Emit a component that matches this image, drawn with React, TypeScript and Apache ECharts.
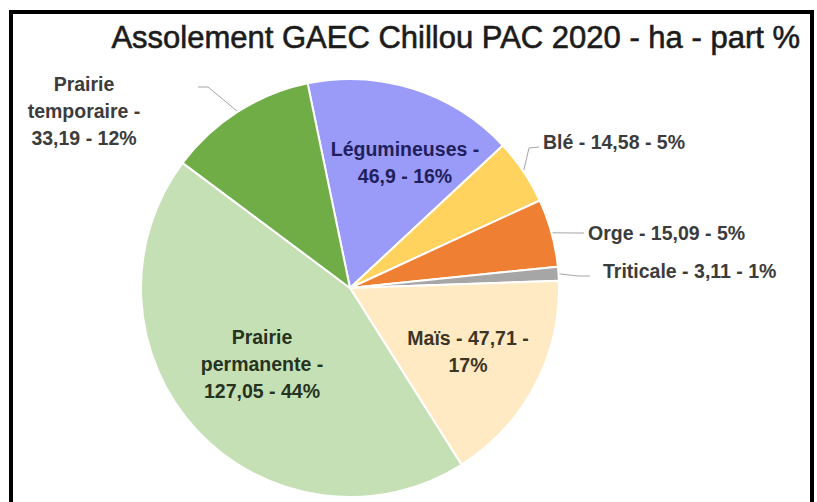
import React, { useEffect, useRef } from "react";
import * as echarts from "echarts";

// ---- data ----
const titleText = "Assolement GAEC Chillou PAC 2020 - ha - part %";
const categories = [
  "Légumineuses",
  "Blé",
  "Orge",
  "Triticale",
  "Maïs",
  "Prairie permanente",
  "Prairie temporaire",
];
const hectares = [46.9, 14.58, 15.09, 3.11, 47.71, 127.05, 33.19];

// ---- style ----
const sliceColors = ["#9A9AF8", "#FFD35E", "#EE7F33", "#A6A6A6", "#FFEAC3", "#C5E0B4", "#70AD47"];
const labelColors = ["#1f1f5c", "#3c3c3c", "#3c3c3c", "#3c3c3c", "#3b3526", "#25331f", "#3c3c3c"];
// {n}: name, {N}: name broken on its space, {v}: hectares, {p}: percent
const labelTemplates = [
  "{n} -\n{v} - {p}%",
  "{n} - {v} - {p}%",
  "{n} - {v} - {p}%",
  "{n} - {v} - {p}%",
  "{n} - {v} -\n{p}%",
  "{N} -\n{v} - {p}%",
  "{N} -\n{v} - {p}%",
];
const insideFlags = [true, false, false, false, true, true, false];

type Place = { x: number; y: number; align: "left" | "center"; line?: number[][] };
const placements: Place[] = [
  { x: 405, y: 162, align: "center" },
  { x: 543, y: 142, align: "left", line: [[529, 148], [539, 147]] },
  { x: 588, y: 233, align: "left", line: [[578, 233], [584, 233]] },
  { x: 603, y: 271, align: "left", line: [[578, 276], [590, 276]] },
  { x: 468, y: 351, align: "center" },
  { x: 262, y: 364, align: "center" },
  { x: 84, y: 111, align: "center", line: [[208, 87], [198, 87]] },
];

const FONT = '"Liberation Sans", Arial, sans-serif';

export default function App() {
  const ref = useRef<HTMLDivElement>(null);
  useEffect(() => {
    if (!ref.current) return;
    const chart = echarts.init(ref.current, null, { renderer: "svg" });
    const data = categories.map((name, i) => ({
      name,
      value: hectares[i],
      itemStyle: { color: sliceColors[i] },
      label: {
        show: true,
        position: insideFlags[i] ? "inside" : "outside",
        color: labelColors[i],
      },
      labelLine: { show: !insideFlags[i] },
    }));
    chart.setOption({
      animation: false,
      backgroundColor: "#ffffff",
      graphic: [
        {
          type: "rect",
          shape: { x: 11, y: 12, width: 801, height: 520 },
          style: { fill: "none", stroke: "#000000", lineWidth: 4 },
          z: 10,
        },
        {
          type: "text",
          x: 800,
          y: 37,
          style: {
            text: titleText,
            fontFamily: FONT,
            fontSize: 31,
            fill: "#1c1c1c",
            stroke: "#1c1c1c",
            lineWidth: 0.6,
            align: "right",
            verticalAlign: "middle",
          },
        },
      ],
      series: [
        {
          type: "pie",
          center: [350, 288],
          radius: 209,
          startAngle: 101.7,
          clockwise: true,
          avoidLabelOverlap: false,
          emphasis: { disabled: true },
          itemStyle: { borderColor: "#ffffff", borderWidth: 2 },
          label: {
            fontFamily: FONT,
            fontWeight: "bold",
            fontSize: 19.5,
            lineHeight: 27,
            align: "center",
            formatter: (p: any) =>
              labelTemplates[p.dataIndex]
                .replace("{n}", p.name)
                .replace("{N}", String(p.name).replace(" ", "\n"))
                .replace("{v}", String(p.value).replace(".", ","))
                .replace("{p}", String(Math.round(p.percent))),
          },
          labelLine: {
            lineStyle: { color: "#a6a6a6", width: 1 },
            length: 10,
            length2: 10,
          },
          labelLayout: (params: any) => {
            const pl = placements[params.dataIndex];
            const out: any = {
              x: pl.x,
              y: pl.y,
              align: pl.align,
              verticalAlign: "middle",
              hideOverlap: false,
            };
            if (pl.line) {
              const edge = params.labelLinePoints && params.labelLinePoints[0];
              out.labelLinePoints = edge ? [edge, ...pl.line] : pl.line;
            }
            return out;
          },
          data,
        },
      ],
    });
    return () => chart.dispose();
  }, []);
  return (
    <div
      ref={ref}
      style={{ position: "absolute", left: 0, top: 0, width: 817, height: 502, background: "#fff" }}
    />
  );
}
